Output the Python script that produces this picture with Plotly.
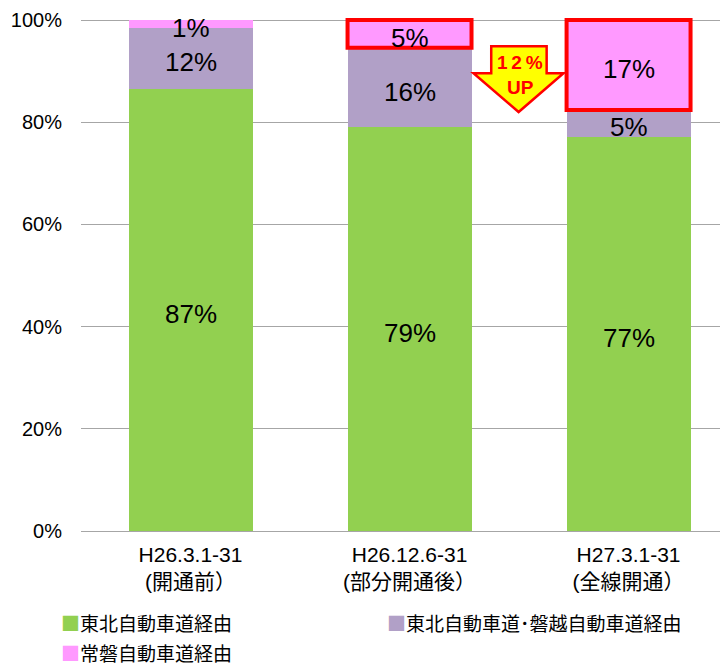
import plotly.graph_objects as go

categories = ["H26.3.1-31<br>(開通前）", "H26.12.6-31<br>(部分開通後）", "H27.3.1-31<br>(全線開通）"]
series_names = ["東北自動車道経由", "東北自動車道･磐越自動車道経由", "常磐自動車道経由"]
tohoku = [86.5, 79.0, 77.2]
tohoku_banetsu = [12.0, 15.6, 5.2]
joban = [1.5, 5.4, 17.6]
tohoku_labels = ["87%", "79%", "77%"]
tohoku_banetsu_labels = ["12%", "16%", "5%"]
joban_labels = ["1%", "5%", "17%"]
y_ticks = [0, 20, 40, 60, 80, 100]
y_tick_labels = ["0%", "20%", "40%", "60%", "80%", "100%"]

colors = ["#92D050", "#B1A0C7", "#FF99FF"]
FONT = "Liberation Sans, Arial, Noto Sans CJK JP, sans-serif"
xs = list(range(len(categories)))
BAR_W = 0.566

fig = go.Figure()
series = [tohoku, tohoku_banetsu, joban]
labels = [tohoku_labels, tohoku_banetsu_labels, joban_labels]
for name, vals, col in zip(series_names, series, colors):
    fig.add_trace(go.Bar(x=xs, y=vals, name=name, marker=dict(color=col, line=dict(width=0)),
                         width=BAR_W, showlegend=False))

# value labels at segment middles
base = [0.0] * len(xs)
for vals, labs in zip(series, labels):
    for x, b, v, lab in zip(xs, base, vals, labs):
        fig.add_annotation(x=x, y=b + v / 2, xref="x", yref="y", text=lab, showarrow=False,
                           yshift=-4, font=dict(size=26, color="#000000", family=FONT))
    base = [b + v for b, v in zip(base, vals)]

# red highlight boxes around the 常磐 segments of bars 2 and 3
for i in (1, 2):
    y0 = tohoku[i] + tohoku_banetsu[i]
    fig.add_shape(type="rect", xref="x", yref="y", x0=xs[i] - BAR_W / 2, x1=xs[i] + BAR_W / 2,
                  y0=y0, y1=y0 + joban[i], line=dict(color="#FF0000", width=4), layer="above")

# yellow "12% UP" arrow
fig.add_shape(type="path", xref="x", yref="y",
              path="M 1.373 94.9 L 1.626 94.9 L 1.626 89.6 L 1.703 89.6 L 1.498 82.0 "
                   "L 1.292 89.6 L 1.373 89.6 Z",
              fillcolor="#FFFF00", line=dict(color="#FF0000", width=2.5), layer="above")
fig.add_annotation(x=1.505, y=91.8, xref="x", yref="y", text="<b>1\u20092\u2009%</b>",
                   showarrow=False, font=dict(size=19, color="#FF0000", family=FONT))
fig.add_annotation(x=1.505, y=86.9, xref="x", yref="y", text="<b>UP</b>", showarrow=False,
                   font=dict(size=19, color="#FF0000", family=FONT))

# legend drawn as text rows
legend_pos = [(-0.034, -0.178), (0.470, -0.178), (-0.034, -0.236)]
for name, col, (lx, ly) in zip(series_names, colors, legend_pos):
    fig.add_annotation(x=lx, y=ly, xref="paper", yref="paper", xanchor="left", yanchor="middle",
                       showarrow=False,
                       text=f'<span style="color:{col}">■</span>{name}',
                       font=dict(size=19, color="#000000", family="Noto Sans CJK JP, sans-serif"))

# page body has an 8px margin, so the figure is 8px smaller and its margins shifted
fig.update_layout(
    width=720, height=660,
    margin=dict(l=73, r=0, t=7, b=137),
    plot_bgcolor="#FFFFFF", paper_bgcolor="#FFFFFF",
    barmode="stack", bargap=0,
    font=dict(family=FONT, color="#000000", size=19),
    showlegend=False,
)
fig.update_xaxes(range=[-0.5, 2.454], tickvals=xs, ticktext=categories, showgrid=False,
                 zeroline=False, showline=False, ticks="", tickfont=dict(size=21),
                 ticklabelstandoff=9, fixedrange=True)
fig.update_yaxes(range=[0, 101], tickvals=y_ticks, ticktext=y_tick_labels, showgrid=True,
                 gridcolor="#A6A6A6", gridwidth=1.3, zeroline=True, zerolinecolor="#A6A6A6",
                 zerolinewidth=1.3, showline=False, ticks="", ticklabelstandoff=18,
                 tickfont=dict(size=20), fixedrange=True)

fig.write_html("out.html")
